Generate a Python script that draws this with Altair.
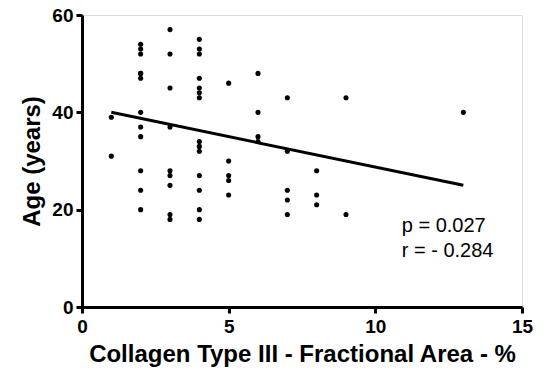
import altair as alt
import pandas as pd

# Scatter data
collagen = [1, 1,
            2, 2, 2, 2, 2, 2, 2, 2, 2, 2, 2, 2,
            3, 3, 3, 3, 3, 3, 3, 3, 3,
            4, 4, 4, 4, 4, 4, 4, 4, 4, 4, 4, 4, 4, 4,
            5, 5, 5, 5, 5,
            6, 6, 6, 6,
            7, 7, 7, 7, 7,
            8, 8, 8,
            9, 9,
            13]
age = [39, 31,
       54, 53, 52, 48, 48, 47, 40, 37, 35, 28, 24, 20,
       57, 52, 45, 37, 28, 27, 25, 19, 18,
       55, 53, 52, 47, 45, 44, 43, 34, 33, 32, 27, 24, 20, 18,
       46, 30, 27, 26, 23,
       48, 40, 35, 34,
       43, 32, 24, 22, 19,
       28, 23, 21,
       43, 19,
       40]

# Regression line end points
fit_x = [1, 13]
fit_y = [40, 25]

stats_text = ["p = 0.027", "r = - 0.284"]
stats_y = [15.4, 10.3]
stats_x = [10.9, 10.9]

FONT = "Liberation Sans"

pts = pd.DataFrame({"x": collagen, "y": age})
fit = pd.DataFrame({"x": fit_x, "y": fit_y})
ann = pd.DataFrame({"x": stats_x, "y": stats_y, "t": stats_text})

xscale = alt.Scale(domain=[0, 15], nice=False, zero=False)
yscale = alt.Scale(domain=[0, 60], nice=False, zero=False)

common = dict(grid=False, domainColor="black", domainWidth=3, tickColor="black",
              tickWidth=3, tickSize=6, labelFont=FONT, labelFontWeight="bold",
              labelFontSize=19, labelColor="black", labelFlush=False,
              labelOverlap=False, titleFont=FONT, titleFontWeight="bold",
              titleFontSize=24, titleColor="black")

xaxis = alt.Axis(values=[0, 5, 10, 15], title="Collagen Type III - Fractional Area - %",
                 labelPadding=4, titlePadding=6, **common)
yaxis = alt.Axis(values=[0, 20, 40, 60], title="Age (years)",
                 labelPadding=3, titlePadding=7, **common)

points = alt.Chart(pts).mark_circle(size=26, color="black", opacity=1).encode(
    x=alt.X("x:Q", scale=xscale, axis=xaxis),
    y=alt.Y("y:Q", scale=yscale, axis=yaxis),
)

line = alt.Chart(fit).mark_line(color="black", strokeWidth=3).encode(
    x=alt.X("x:Q", scale=xscale),
    y=alt.Y("y:Q", scale=yscale),
)

text = alt.Chart(ann).mark_text(align="left", baseline="alphabetic", font=FONT,
                                fontSize=20, color="black").encode(
    x=alt.X("x:Q", scale=xscale),
    y=alt.Y("y:Q", scale=yscale),
    text="t:N",
)

chart = alt.layer(points, line, text).properties(
    width=440, height=292,
    autosize=alt.AutoSizeParams(type="none"),
    padding={"left": 74, "top": 7, "right": 17, "bottom": 70},
).configure_view(stroke=None).configure(background="white")

chart.save("out.html", embed_options={"renderer": "svg", "actions": False})
